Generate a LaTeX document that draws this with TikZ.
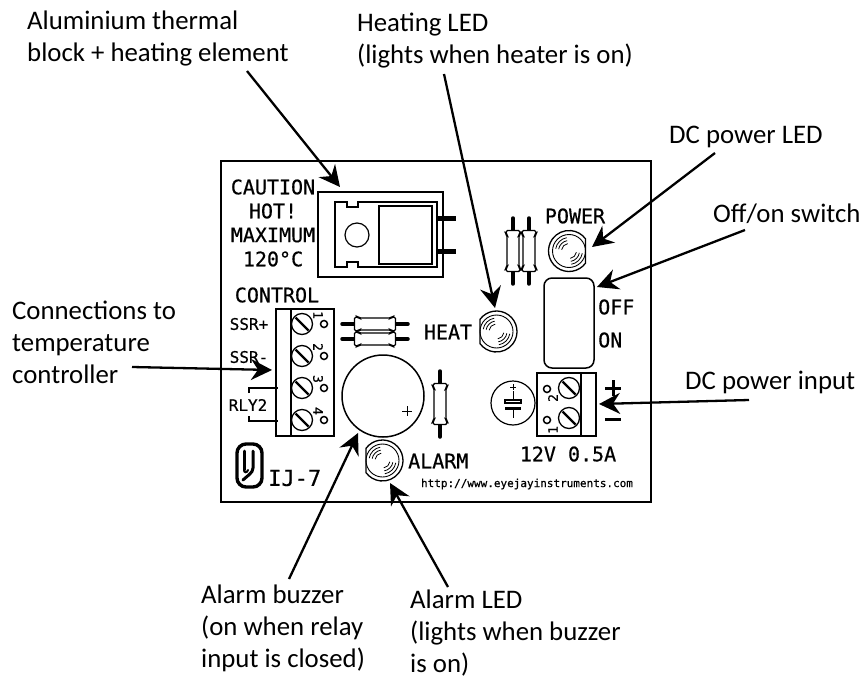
\documentclass[tikz,border=0pt]{standalone}
\usepackage{fontspec}
\setmainfont{Carlito}
\newfontfamily\silk[FakeBold=0.5]{DejaVu Sans Mono}
\newcommand\firstline{\rule{0pt}{20pt}}
\usetikzlibrary{arrows.meta}
\tikzset{
  x=1pt,y=-1pt,
  callout/.style={font=\fontsize{26.8}{32}\selectfont,align=left,anchor=north west,inner sep=0pt},
  silktext/.style={font=\silk\fontsize{20}{20}\selectfont,inner sep=0pt},
  silksmall/.style={font=\silk\fontsize{16}{16}\selectfont,inner sep=0pt},
  silkdigit/.style={font=\silk\fontsize{13}{13}\selectfont,inner sep=0pt},
  part/.style={draw=black,line width=1.5pt},
  board/.style={draw=black,line width=2pt},
  pointer/.style={draw=black,line width=2.3pt,-{Stealth[length=21pt,width=21pt,inset=7pt]}},
  lead/.style={draw=black,line width=3.5pt,line cap=round},
  screwpic/.pic={
    \draw[line width=1.3pt] (0,0) circle[radius=10.5];
    \draw[line width=2.2pt] (-6.5,-6.5) -- (6.5,6.5);
  },
  ledpic/.pic={
    \draw[line width=1.3pt] (36:20.5) arc[start angle=36,end angle=324,radius=20.5] -- cycle;
    \draw[line width=.9pt] (0,0) circle[radius=16.5];
    \foreach \r in {13.5,10.5,7.5}{
      \draw[line width=.8pt] (-170:\r) arc[start angle=-170,end angle=-100,radius=\r];
      \draw[line width=.8pt] (10:\r) arc[start angle=10,end angle=80,radius=\r];
    }
  },
  resistpic/.pic={
    \draw[lead] (-33,0) -- (33,0);
    \draw[line width=1.4pt,fill=white,rounded corners=1.5pt]
      (-20.5,-7) -- (-17,-7) -- (-16,-6) -- (16,-6) -- (17,-7) -- (20.5,-7)
      -- (20.5,7) -- (17,7) -- (16,6) -- (-16,6) -- (-17,7) -- (-20.5,7) -- cycle;
  },
}
\begin{document}
\begin{tikzpicture}
\useasboundingbox (0,0) rectangle (861,679);
\fill[white] (0,0) rectangle (861,679);
% board
\draw[board] (221,161) rectangle (651,502);
% heat block
\draw[part] (318,192) rectangle (443,277);
\draw[lead,line width=5pt,line cap=butt] (437,218) -- (456,218);
\draw[lead,line width=5pt,line cap=butt] (437,251) -- (456,251);
\draw[part,fill=white] (335,202) -- (347,202) -- (347,207) -- (358,207) -- (358,202) -- (437,202)
  -- (437,267) -- (358,267) -- (358,262) -- (347,262) -- (347,267) -- (335,267) -- cycle;
\draw[part] (379,206) rectangle (432,264);
\draw[line width=1.2pt] (357,235) circle[radius=12];
% caution text
\node[silktext] (t1) at (273,187) {CAUTION};
\node[silktext] (t2) at (273,211) {HOT!};
\node[silktext] (t3) at (273,235) {MAXIMUM};
\node[silktext] (t4) at (273,259) {120°C};
\node[silktext] (t5) at (277,295) {CONTROL};
\node[silktext] (t6) at (575,216) {POWER};
\node[silktext] (t7) at (448,332) {HEAT};
\node[silktext,anchor=west] (t8) at (598,307) {OFF};
\node[silktext,anchor=west] (t9) at (598,340) {ON};
\node[silktext,anchor=west] (t10) at (408,461) {ALARM};
\node[silktext] (t11) at (568,454) {12V 0.5A};
\node[silktext,font=\silk\fontsize{22}{22}\selectfont,anchor=west] (t12) at (268,478) {IJ-7};
\node[silksmall] (t13) at (249,324) {SSR+};
\node[silksmall] (t14) at (249,357) {SSR-};
\node[silksmall] (t15) at (248,405) {RLY2};
\node[silktext,font=\silk\fontsize{11}{11}\selectfont] (t16) at (527,484) {http://www.eyejayinstruments.com};
% resistors
\path (513,251) pic[rotate=90] {resistpic};
\path (529,251) pic[rotate=90] {resistpic};
\path (375,324) pic {resistpic};
\path (375,339) pic {resistpic};
\path (440,404) pic[rotate=90] {resistpic};
% LEDs
\path (569,251) pic {ledpic};
\path (496.5,331.5) pic[rotate=180] {ledpic};
\path (382.5,460.5) pic[rotate=180] {ledpic};
% switch
\draw[part,rounded corners=8pt] (544,278) rectangle (594,368);
% left terminal
\draw[part] (276,309) rectangle (334,436);
\draw[part] (291,309) -- (291,436);
\foreach \y/\n [count=\i] in {324/1,356/2,388/3,420/4}{
  \path (302,\y) pic {screwpic};
  \draw[line width=1.5pt] (324,\y) circle[radius=3.5];
  \node[silkdigit,rotate=-90] (ld\i) at (318,\y-9) {\n};
}
% RLY2 bracket
\draw[line width=1.8pt] (249,393) -- (249,388) -- (278,388);
\draw[line width=1.8pt] (249,416) -- (249,421) -- (278,421);
% buzzer
\draw[part] (383,396) circle[radius=41];
\draw[line width=1pt] (402,411) -- (412,411) (407,406) -- (407,416);
% capacitor
\draw[line width=1.2pt] (513,403) circle[radius=22];
\draw[line width=1pt] (510,387) -- (516,387) (513,384) -- (513,390);
\draw[line width=1pt] (513,391) -- (513,400) (513,410) -- (513,418);
\draw[line width=1.2pt] (505,400) rectangle (521,403);
\fill (505,407) rectangle (521,410);
% right terminal
\draw[part] (537,373) rectangle (596,436);
\draw[part] (581,373) -- (581,436);
\draw[line width=2pt] (537,373) -- (537,436);
\foreach \y/\hy/\n/\dy [count=\i] in {388/389/2/398,418/420/1/430}{
  \path (569,\y) pic {screwpic};
  \draw[line width=1.5pt] (547,\hy) circle[radius=3.5];
  \node[silkdigit,rotate=90] (rd\i) at (553,\dy) {\n};
}
% plus / minus
\draw[line width=3pt] (605,388) -- (621,388) (613,380) -- (613,396);
\draw[line width=3pt] (605,419) -- (621,419);
% logo
\draw[line width=3.4pt,rounded corners=9pt] (237,444) rectangle (262,487);
\draw[line width=3pt,line cap=round] (244,451) -- (244,470);
\draw[line width=3pt,line cap=round] (253,451) -- (253,468) .. controls (253,473) and (247,476) .. (243,480);
\draw[line width=2pt,line cap=round] (244,470) .. controls (244,473) and (247,473) .. (248,470);
% callouts
\node[callout] (alu) at (27,9) {\firstline Aluminium thermal\\block + heating element};
\node[callout] (hled) at (357,11) {\firstline Heating LED\\(lights when heater is on)};
\node[callout] (dcled) at (669,123) {\firstline DC power LED};
\node[callout] (sw) at (713,202) {\firstline Off/on switch};
\node[callout] (conn) at (12,299) {\firstline Connections to\\temperature\\controller};
\node[callout] (dcin) at (685,369) {\firstline DC power input};
\node[callout] (buz) at (201,583) {\firstline Alarm buzzer\\(on when relay\\input is closed)};
\node[callout] (aled) at (410,588) {\firstline Alarm LED\\(lights when buzzer\\is on)};
% connector ends
\coordinate (aluA) at (247,71);  \coordinate (aluB) at (340,187);
\coordinate (hledA) at (444,74); \coordinate (hledB) at (495,308);
\coordinate (dcledA) at (715,153); \coordinate (dcledB) at (592,247);
\coordinate (swA) at (745,230); \coordinate (swB) at (597,287);
\coordinate (connA) at (132,367); \coordinate (connB) at (272,370);
\coordinate (dcinA) at (749,400); \coordinate (dcinB) at (599,404);
\coordinate (buzA) at (289,579); \coordinate (buzB) at (358,433);
\coordinate (aledA) at (448,587); \coordinate (aledB) at (390,483);
\foreach \n in {alu,hled,dcled,sw,conn,dcin,buz,aled}{
  \draw[pointer] (\n A) -- (\n B);
}
\end{tikzpicture}
\end{document}
